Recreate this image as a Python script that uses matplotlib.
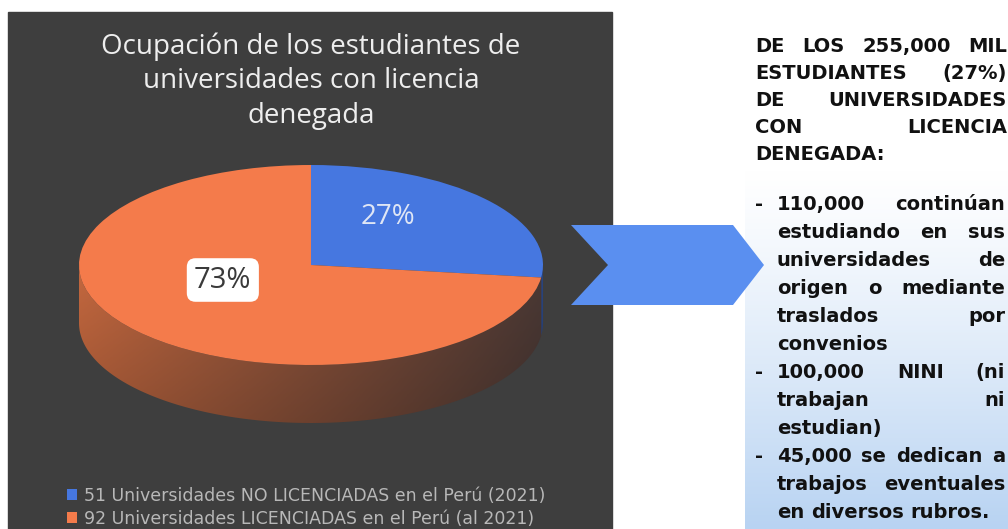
import numpy as np
import matplotlib.pyplot as plt
from matplotlib.patches import Polygon, Rectangle
from matplotlib.colors import to_rgb

W, H = 1008, 529

# chart data
shares = [27, 73]
legend_labels = ['51 Universidades NO LICENCIADAS en el Perú (2021)',
                 '92 Universidades LICENCIADAS en el Perú (al 2021)']
slice_colors = ['#4677e0', '#f47b4b']
side_colors = [('#3a5fb0', '#2a4580'), ('#c4683f', '#4b3935')]
title = 'Ocupación de los estudiantes de\nuniversidades con licencia\ndenegada'

# side note text
header_lines = ['DE LOS 255,000 MIL', 'ESTUDIANTES (27%)', 'DE UNIVERSIDADES',
                'CON LICENCIA', 'DENEGADA:']
bullets = [
    ['110,000 continúan', 'estudiando en sus', 'universidades de',
     'origen o mediante', 'traslados por', 'convenios'],
    ['100,000 NINI (ni', 'trabajan ni', 'estudian)'],
    ['45,000 se dedican a', 'trabajos eventuales', 'en diversos rubros.'],
]

fig = plt.figure(figsize=(W / 100, H / 100), dpi=100, facecolor='white')
bg = fig.add_axes([0, 0, 1, 1])
bg.axis('off')

# dark chart panel
bg.add_patch(Rectangle((8, 12), 604, 520, color='#3e3e3e', zorder=1))

# light blue gradient behind the bullet list
grad = np.ones((200, 1, 3))
top, bot = np.array([1, 1, 1]), np.array(to_rgb('#b8d3f2'))
t = np.linspace(0, 1, 200)[:, None] ** 1.2
grad[:, 0, :] = top * (1 - t) + bot * t
bg.imshow(grad, extent=(745, W, H, 170), aspect='auto', zorder=0)

# arrow
arrow = [(571, 225), (733, 225), (764, 265), (733, 305), (571, 305), (608, 265)]
bg.add_patch(Polygon(arrow, closed=True, color='#5a8ff0', lw=0, zorder=3))

bg.set_xlim(0, W)
bg.set_ylim(H, 0)

# title
bg.text(311, 81, title, ha='center', va='center', color='#eeeeee',
        fontsize=20, family='Open Sans', linespacing=1.3, zorder=4)

# justified right-hand text
rend = fig.canvas.get_renderer()
tkw = dict(fontsize=14, fontweight='bold', family='DejaVu Sans', color='#111111')


def text_width(s):
    tt = bg.text(0, 0, s, **tkw)
    w = tt.get_window_extent(rend).width
    tt.remove()
    return w


space_w = text_width('x x') - text_width('xx')


def put_line(s, x0, x1, y, justify):
    words = s.split(' ')
    widths = [text_width(w) for w in words]
    gap = space_w
    if justify and len(words) > 1:
        gap = (x1 - x0 - sum(widths)) / (len(words) - 1)
    x = x0
    for w, wd in zip(words, widths):
        bg.text(x, y + 7, w, va='baseline', ha='left', zorder=5, **tkw)
        x += wd + gap


y = 45
for i, line in enumerate(header_lines):
    put_line(line, 755, 1007, y, i < len(header_lines) - 1)
    y += 27

y = 203
for para in bullets:
    bg.text(755, y + 7, '-', va='baseline', ha='left', zorder=5, **tkw)
    for i, line in enumerate(para):
        put_line(line, 777, 1005, y, i < len(para) - 1)
        y += 28

# 3D-looking pie
depth = 0.58
pax = fig.add_axes([79 / W, 1 - 423 / H, 464 / W, 258 / H])
wedges, _, autotexts = pax.pie(shares, colors=slice_colors, startangle=90,
                               counterclock=False, radius=1,
                               wedgeprops=dict(linewidth=0),
                               autopct='%1.0f%%')
for w in wedges:
    w.set_zorder(3)

for w, (cl, cr) in zip(wedges, side_colors):
    th = np.radians(np.linspace(w.theta1, w.theta2, 500))
    th = th[np.sin(th) <= 0.0001]
    if len(th) < 2:
        continue
    xs, ys = np.cos(th), np.sin(th)
    pts = np.r_[np.c_[xs, ys], np.c_[xs[::-1], ys[::-1] - depth]]
    poly = Polygon(pts, closed=True, lw=0, facecolor='none', zorder=1)
    pax.add_patch(poly)
    gx = np.linspace(0, 1, 300)[None, :, None]
    gy = np.linspace(0, 1, 60)[:, None, None]
    img = (np.array(to_rgb(cl)) * (1 - gx) + np.array(to_rgb(cr)) * gx) * (1 - 0.2 * gy)
    im = pax.imshow(img, extent=(-1, 1, -1 - depth, 0), aspect='auto', zorder=1)
    im.set_clip_path(poly)

pax.set_aspect('auto')
pax.set_xlim(-1, 1)
pax.set_ylim(-1 - depth, 1)
pax.axis('off')

autotexts[0].set_position((0.33, 0.48))
autotexts[0].set(color='#dfe6f5', fontsize=20, family='Open Sans')
autotexts[1].set_position((-0.38, -0.15))
autotexts[1].set(color='#3a3a3a', fontsize=21, family='Open Sans', zorder=6)
autotexts[1].set_bbox(dict(boxstyle='round,pad=0.25,rounding_size=0.3',
                           fc='white', ec='none'))

pax.legend(wedges, legend_labels, loc='upper left',
           bbox_to_anchor=(58 / W, 1 - 478 / H), bbox_transform=fig.transFigure,
           frameon=False, handlelength=0.6, handleheight=0.6, handletextpad=0.4,
           labelspacing=0.3, borderpad=0, prop=dict(family='DejaVu Sans', size=12.5),
           labelcolor='#b8b8b8')

fig.savefig('out.png', dpi=100, facecolor='white')
